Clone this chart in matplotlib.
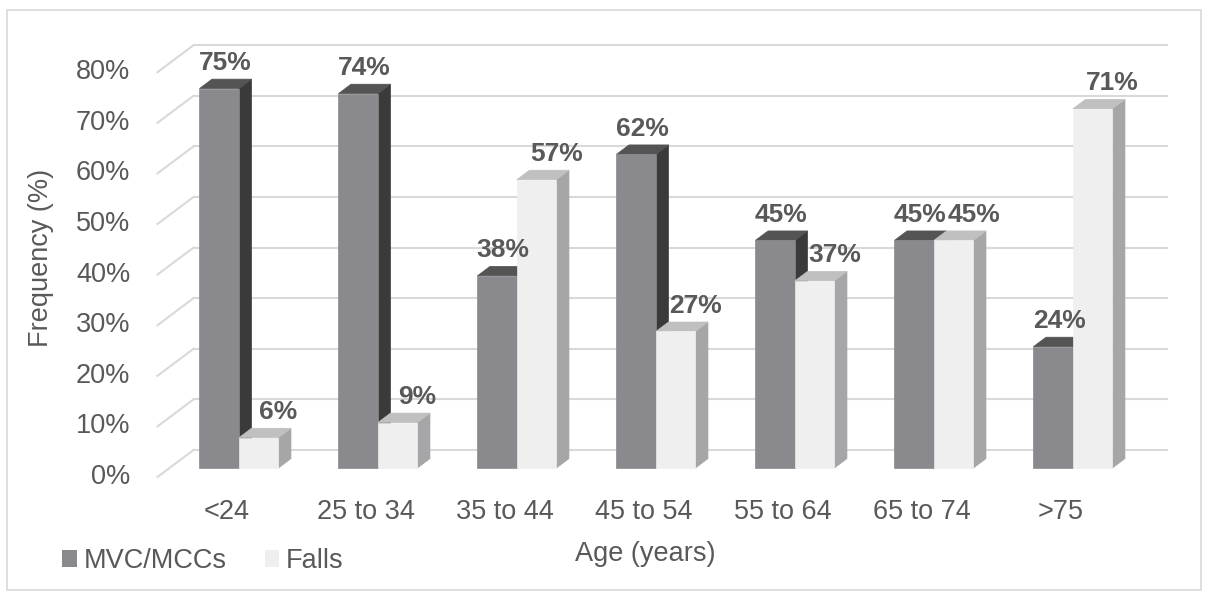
import numpy as np
import matplotlib as mpl
mpl.use('Agg')
import matplotlib.pyplot as plt
from matplotlib.patches import Polygon, Patch, Rectangle

mpl.rcParams.update({'font.family': ['Liberation Sans', 'DejaVu Sans']})

# data
categories = ['<24', '25 to 34', '35 to 44', '45 to 54', '55 to 64', '65 to 74', '>75']
mvc = [75, 74, 38, 62, 45, 45, 24]
falls = [6, 9, 57, 27, 37, 45, 71]
yticks = [0, 10, 20, 30, 40, 50, 60, 70, 80]
series_names = ['MVC/MCCs', 'Falls']

# colours: front, top, side
col_mvc = ('#8a8a8e', '#545454', '#3a3a3a')
col_falls = ('#efefef', '#c0c0c1', '#a6a6a9')
grid_col = '#d9d9d9'
txt_col = '#595959'

W, H = 1208, 594
fig = plt.figure(figsize=(W / 100, H / 100), dpi=100)
ax = fig.add_axes([0, 0, 1, 1])
ax.set_axis_off()

# pixel scale: one category = 139 px, 1% = 5.06 px
px_c = 139.0
px_v = 5.06
x_c0 = 227.0   # px of category 0 centre
y_0 = 477.0    # px of front floor
ax.set_xlim(-x_c0 / px_c, (W - x_c0) / px_c)
ax.set_ylim((y_0 - H) / px_v, y_0 / px_v)

# oblique depth vector (wall)
ddx = 36 / px_c
ddy = 27 / px_v
d0, d1 = 0.33, 0.68
n = len(categories)
left, right = -0.5, n - 0.5

# back wall gridlines + left wall diagonals
for v in yticks:
    ax.plot([left + ddx, right + ddx], [v + ddy, v + ddy], color=grid_col, lw=1.5, zorder=1)
    ax.plot([left, left + ddx], [v, v + ddy], color=grid_col, lw=1.5, zorder=1)

bw = 0.284

def bar3d(x0, x1, v, cols, z):
    fx, fy = d0 * ddx, d0 * ddy
    bx, by = d1 * ddx, d1 * ddy
    front = [(x0 + fx, fy), (x1 + fx, fy), (x1 + fx, v + fy), (x0 + fx, v + fy)]
    top = [(x0 + fx, v + fy), (x1 + fx, v + fy), (x1 + bx, v + by), (x0 + bx, v + by)]
    side = [(x1 + fx, fy), (x1 + bx, by), (x1 + bx, v + by), (x1 + fx, v + fy)]
    for pts, c in [(side, cols[2]), (top, cols[1]), (front, cols[0])]:
        ax.add_patch(Polygon(pts, closed=True, facecolor=c, edgecolor=c, lw=0.5, zorder=z))

z = 2
for i in range(n):
    bar3d(i - bw, i, mvc[i], col_mvc, z)
    bar3d(i, i + bw, falls[i], col_falls, z + 1)
    z += 2

# data labels
fx = d0 * ddx
for i in range(n):
    for xc, v, sh in [(i - bw / 2, mvc[i], 6), (i + bw / 2, falls[i], 20)]:
        ax.annotate(f'{v}%', (xc + fx + sh / px_c, v + d1 * ddy), xytext=(0, 3),
                    textcoords='offset points', ha='center', va='bottom',
                    fontsize=19, fontweight='bold', color=txt_col, zorder=50)

# y tick labels
for v in yticks:
    ax.annotate(f'{v}%', (left, v), xytext=(-19.5, 0), textcoords='offset points',
                ha='right', va='center', fontsize=19.5, color=txt_col)

# category labels
for i, c in enumerate(categories):
    ax.annotate(c, (i, 0), xytext=(0, -25), textcoords='offset points',
                ha='center', va='center', fontsize=19.5, color=txt_col)

fig.text(41 / W, 1 - 258 / H, 'Frequency (%)', rotation=90, ha='center', va='center',
         fontsize=19.5, color=txt_col)
fig.text(645 / W, 1 - 554 / H, 'Age (years)', ha='center', va='center',
         fontsize=19.5, color=txt_col)

handles = [Patch(facecolor=col_mvc[0]), Patch(facecolor=col_falls[0])]
leg = fig.legend(handles, series_names, loc='center left',
                 bbox_to_anchor=(62 / W, 1 - 561 / H), ncol=2, frameon=False,
                 handlelength=0.55, handleheight=0.55, handletextpad=0.25,
                 columnspacing=1.4, borderpad=0, borderaxespad=0,
                 fontsize=19.5, labelcolor=txt_col)

# chart border
fig.patches.append(Rectangle((7 / W, 4 / H), 1194 / W, 580 / H, transform=fig.transFigure,
                             fill=False, edgecolor='#d9d9d9', lw=1.2))

fig.savefig('out.png', dpi=100)
